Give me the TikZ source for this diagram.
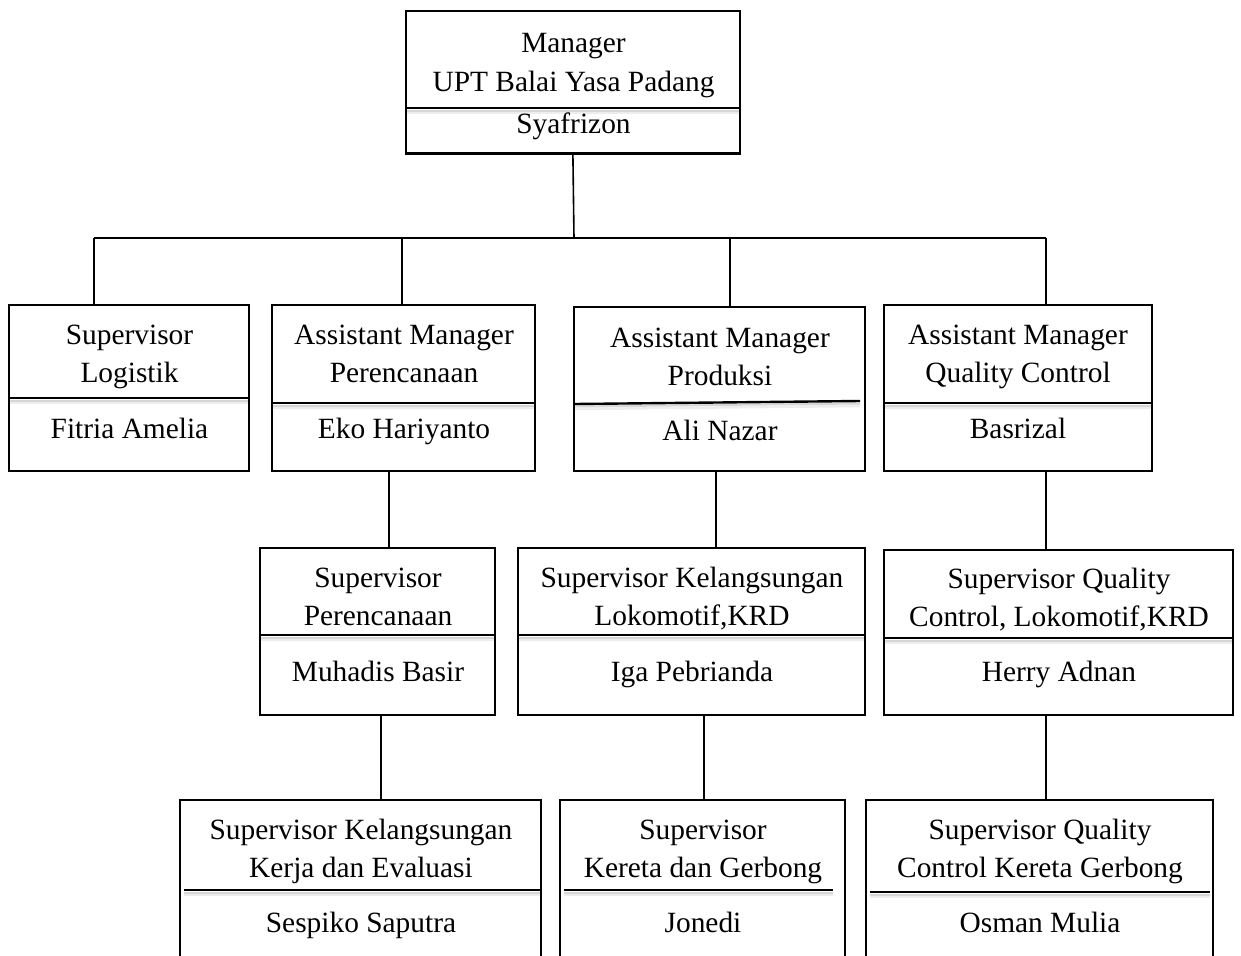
\documentclass[tikz,border=0pt]{standalone}
\usepackage{fontspec}
\setmainfont{Liberation Serif}
\begin{document}
\begin{tikzpicture}[x=1bp,y=-1bp,
  box/.style={draw, line width=2.2bp, inner sep=0pt, outer sep=0pt, anchor=north west},
  lbl/.style={font=\fontsize{29.5}{38}\selectfont, inner sep=0pt, anchor=base},
  conn/.style={line width=1.6bp},
  divider/.style={line width=2.4bp},
  shadeA/.style={line width=2bp, draw=black!16},
  shadeB/.style={line width=2.5bp, draw=black!7}]
\useasboundingbox (0,0) rectangle (1241,956);
\clip (0,0) rectangle (1241,956);

\def\divlist{406/741/108/108, 9/250/398/398, 272/536/403/403, 575/860/404/401,
  884/1153/403/403, 260/496/635/635, 518/866/635/635, 884/1234/638/638,
  184/541/890/890, 564/833/890/890, 870/1210/892/892}

% ---------- soft shadows under the dividers ----------
\foreach \xa/\xb/\ya/\yb in \divlist{
  \draw[shadeB] (\xa,\ya+5) -- (\xb,\yb+5);
  \draw[shadeA] (\xa,\ya+2.5) -- (\xb,\yb+2.5);
}

% ---------- boxes ----------
\node[box, minimum width=335, minimum height=143] (top) at (406,11) {};
\node[box, minimum width=241, minimum height=167] (A) at (9,305) {};
\node[box, minimum width=264, minimum height=167] (B) at (272,305) {};
\node[box, minimum width=292, minimum height=165] (C) at (574,307) {};
\node[box, minimum width=269, minimum height=167] (D) at (884,305) {};
\node[box, minimum width=236, minimum height=168] (E) at (260,548) {};
\node[box, minimum width=348, minimum height=168] (F) at (518,548) {};
\node[box, minimum width=350, minimum height=166] (G) at (884,550) {};
\node[box, minimum width=362, minimum height=190] (H) at (180,800) {};
\node[box, minimum width=286, minimum height=190] (I) at (560,800) {};
\node[box, minimum width=348, minimum height=190] (J) at (866,800) {};

% ---------- dividers ----------
\foreach \xa/\xb/\ya/\yb in \divlist{
  \draw[divider] (\xa,\ya) -- (\xb,\yb);
}

% ---------- texts ----------
\node[lbl] (t0a) at (573.5,52) {Manager};
\node[lbl] (t0b) at (573.5,91) {UPT Balai Yasa Padang};
\node[lbl] (t0c) at (573.5,133) {Syafrizon};

\node[lbl] (tA1) at (129.5,344) {Supervisor};
\node[lbl] (tA2) at (129.5,382) {Logistik};
\node[lbl] (tA3) at (129.5,438) {Fitria Amelia};

\node[lbl] (tB1) at (404,344) {Assistant Manager};
\node[lbl] (tB2) at (404,382) {Perencanaan};
\node[lbl] (tB3) at (404,438) {Eko Hariyanto};

\node[lbl] (tC1) at (720,347) {Assistant Manager};
\node[lbl] (tC2) at (720,385) {Produksi};
\node[lbl] (tC3) at (720,440) {Ali Nazar};

\node[lbl] (tD1) at (1018,344) {Assistant Manager};
\node[lbl] (tD2) at (1018,382) {Quality Control};
\node[lbl] (tD3) at (1018,438) {Basrizal};

\node[lbl] (tE1) at (378,587) {Supervisor};
\node[lbl] (tE2) at (378,625) {Perencanaan};
\node[lbl] (tE3) at (378,681) {Muhadis Basir};

\node[lbl] (tF1) at (692,587) {Supervisor Kelangsungan};
\node[lbl] (tF2) at (692,625) {Lokomotif,KRD};
\node[lbl] (tF3) at (692,681) {Iga Pebrianda};

\node[lbl] (tG1) at (1059,588) {Supervisor Quality};
\node[lbl] (tG2) at (1059,626) {Control, Lokomotif,KRD};
\node[lbl] (tG3) at (1059,681) {Herry Adnan};

\node[lbl] (tH1) at (361,839) {Supervisor Kelangsungan};
\node[lbl] (tH2) at (361,877) {Kerja dan Evaluasi};
\node[lbl] (tH3) at (361,932) {Sespiko Saputra};

\node[lbl] (tI1) at (703,839) {Supervisor};
\node[lbl] (tI2) at (703,877) {Kereta dan Gerbong};
\node[lbl] (tI3) at (703,932) {Jonedi};

\node[lbl] (tJ1) at (1040,839) {Supervisor Quality};
\node[lbl] (tJ2) at (1040,877) {Control Kereta Gerbong};
\node[lbl] (tJ3) at (1040,932) {Osman Mulia};

% ---------- connectors ----------
\coordinate (bus) at (574,238);
\coordinate (busL) at (94,238);
\coordinate (busR) at (1046,238);
\coordinate (xB) at (402,0);
\coordinate (xC) at (730,0);
\coordinate (v1) at (389,0);
\coordinate (v2) at (716,0);
\coordinate (v3) at (1046,0);
\coordinate (v4) at (381,0);
\coordinate (v5) at (704,0);
\coordinate (v6) at (1046,0);

\draw[conn] (top.south) -- (bus);
\draw[conn] (busL) -- (busR);
\draw[conn] (busL) -- (busL |- A.north);
\draw[conn] (xB |- busL) -- (xB |- B.north);
\draw[conn] (xC |- busL) -- (xC |- C.north);
\draw[conn] (busR) -- (busR |- D.north);

\draw[conn] (v1 |- B.south) -- (v1 |- E.north);
\draw[conn] (v2 |- C.south) -- (v2 |- F.north);
\draw[conn] (v3 |- D.south) -- (v3 |- G.north);

\draw[conn] (v4 |- E.south) -- (v4 |- H.north);
\draw[conn] (v5 |- F.south) -- (v5 |- I.north);
\draw[conn] (v6 |- G.south) -- (v6 |- J.north);
\end{tikzpicture}
\end{document}
